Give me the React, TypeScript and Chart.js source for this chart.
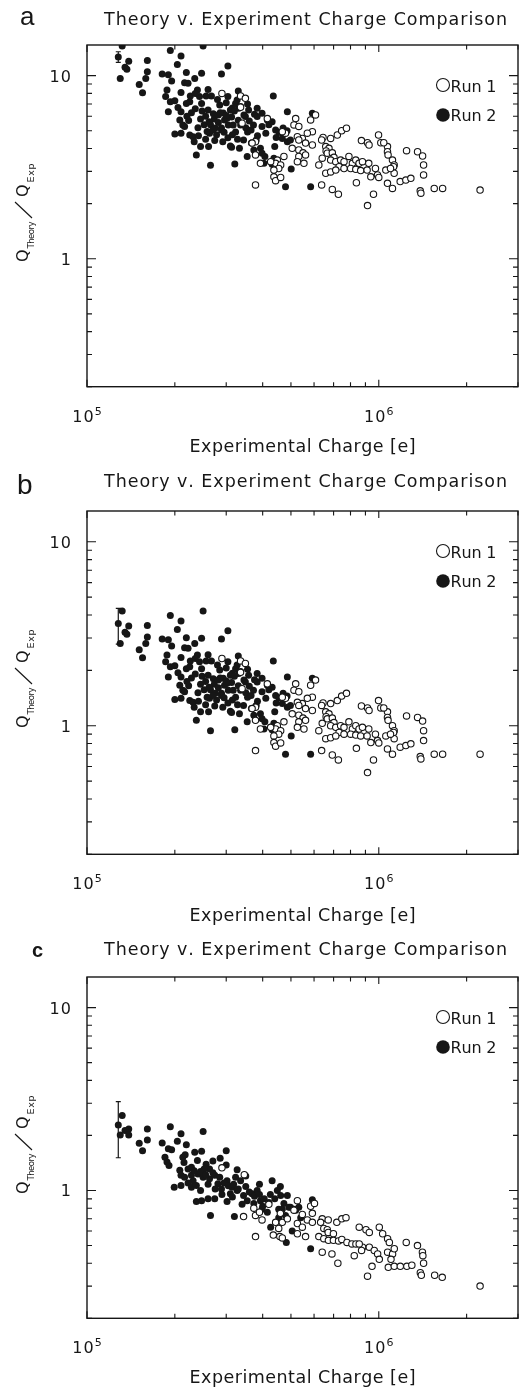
import React, { useEffect, useRef } from "react";
import { Chart, registerables } from "chart.js";

Chart.register(...registerables);

// ---------------- axis ranges / ticks ----------------
const xMin = 1e5;
const xMax = 3e6;
const yMin = 0.2;
const yMax = 14.7;
const xMajorTicks = [1e5, 1e6];
const xMinorTicks = [2e5, 3e5, 4e5, 5e5, 6e5, 7e5, 8e5, 9e5, 2e6, 3e6];
const yMajorTicks = [1, 10];
const yMinorTicks = [0.2, 0.3, 0.4, 0.5, 0.6, 0.7, 0.8, 0.9, 2, 3, 4, 5, 6, 7, 8, 9];
const xTickValues = [1e5, 1e6];
const xTickExps = ["5", "6"];
const yTickValues = [1, 10];
const yTickTexts = ["1", "10"];

const titleText = "Theory v. Experiment Charge Comparison";
const xAxisTitle = "Experimental Charge [e]";
const legendLabels = ["Run 1", "Run 2"];
const panelLetters = ["a", "b", "c"];

// ---------------- panels a & b (same charges) ----------------
const run2ChargeAB = [
  1.32e5, 1.28e5, 1.39e5, 1.37e5, 1.35e5, 1.30e5, 1.61e5, 1.61e5, 1.59e5, 1.51e5,
  1.55e5, 1.93e5, 2.10e5, 2.04e5, 2.50e5, 3.04e5, 1.81e5, 1.90e5, 1.95e5, 2.19e5,
  2.34e5, 2.47e5, 2.89e5, 2.16e5, 2.22e5, 1.88e5, 1.86e5, 1.93e5, 2.10e5, 2.39e5,
  2.26e5, 2.19e5, 2.25e5, 1.90e5, 2.43e5, 2.56e5, 2.67e5, 3.04e5, 2.47e5, 2.85e5,
  2.10e5, 2.28e5, 2.08e5, 2.13e5, 2.23e5, 2.48e5, 2.60e5, 2.71e5, 2.73e5, 2.65e5,
  2.52e5, 2.45e5, 2.82e5, 2.93e5, 2.96e5, 2.82e5, 2.89e5, 3.05e5, 3.13e5, 3.15e5,
  2.16e5, 2.00e5, 2.10e5, 2.25e5, 2.31e5, 2.41e5, 2.63e5, 2.74e5, 2.61e5, 2.45e5,
  3.04e5, 3.13e5, 2.37e5, 2.65e5, 3.21e5, 3.30e5, 3.27e5, 3.10e5, 3.36e5, 3.58e5,
  3.83e5, 4.35e5, 4.86e5, 5.92e5, 3.10e5, 3.54e5, 4.07e5, 4.31e5, 5.01e5, 4.79e5,
  5.84e5, 3.23e5, 3.31e5, 3.49e5, 3.83e5, 3.98e5, 4.15e5, 4.31e5, 3.98e5, 4.43e5,
  4.67e5, 4.86e5, 4.67e5, 4.40e5, 3.93e5, 3.73e5, 3.98e5, 4.37e5, 4.04e5, 2.86e5,
  3.02e5, 3.17e5, 2.89e5, 3.23e5, 2.75e5, 3.36e5, 3.55e5, 3.72e5, 3.44e5, 3.66e5,
  3.84e5, 3.33e5, 4.70e5, 4.98e5,
  2.35e5, 2.55e5, 2.62e5, 2.40e5, 2.58e5, 2.78e5, 2.95e5, 2.70e5, 3.00e5, 3.20e5,
  3.30e5, 3.45e5, 3.60e5, 3.50e5, 3.28e5, 3.15e5, 2.92e5, 2.55e5, 2.33e5, 2.20e5,
  2.05e5, 2.00e5, 2.35e5, 2.60e5, 2.80e5, 3.00e5, 3.55e5, 3.75e5, 3.65e5, 4.10e5,
  4.20e5, 4.55e5, 4.45e5, 4.85e5, 3.80e5,
];
const run2RatioA = [
  14.5, 12.65, 12.0, 10.85, 11.1, 9.65, 12.1, 10.5, 9.65, 8.95,
  8.07, 13.7, 12.8, 11.5, 14.5, 11.3, 10.2, 10.1, 9.35, 10.4,
  9.65, 10.3, 10.2, 9.15, 9.1, 8.35, 7.68, 7.2, 8.1, 8.35,
  7.75, 7.05, 7.2, 6.35, 7.68, 7.75, 7.75, 7.68, 7.05, 6.92,
  6.35, 6.28, 5.73, 5.38, 5.68, 6.4, 6.5, 6.2, 5.8, 5.4,
  5.4, 5.8, 6.1, 6.25, 5.73, 5.55, 5.17, 5.38, 5.95, 6.65,
  5.28, 4.8, 4.85, 4.74, 4.64, 4.7, 4.85, 4.42, 4.1, 4.1,
  4.58, 4.06, 3.69, 3.24, 3.29, 8.25, 7.37, 6.5, 6.78, 6.5,
  6.63, 7.75, 6.35, 6.23, 4.13, 3.62, 3.62, 3.28, 3.09, 2.47,
  2.47, 7.05, 6.63, 5.98, 5.98, 6.23, 5.73, 5.6, 5.28, 5.05,
  4.85, 4.36, 4.54, 4.1, 4.01, 3.93, 3.77, 3.54, 3.32, 6.28,
  5.85, 5.38, 5.05, 4.92, 5.17, 5.38, 4.92, 5.38, 4.45, 4.28,
  4.7, 4.01, 5.18, 4.45,
  6.6, 6.0, 5.6, 5.2, 4.95, 4.75, 4.9, 5.05, 6.05, 6.4,
  5.7, 6.1, 5.65, 5.2, 4.5, 4.75, 4.35, 4.5, 4.35, 6.0,
  6.7, 7.3, 8.0, 8.4, 7.4, 7.1, 7.0, 6.15, 5.05, 4.85,
  5.4, 4.9, 4.6, 5.0, 4.45,
];
const run2RatioB = [
  4.2, 3.6, 3.48, 3.14, 3.22, 2.8, 3.51, 3.04, 2.8, 2.59,
  2.34, 3.97, 3.71, 3.33, 4.2, 3.28, 2.96, 2.93, 2.71, 3.01,
  2.8, 2.99, 2.96, 2.65, 2.64, 2.42, 2.23, 2.09, 2.35, 2.42,
  2.25, 2.04, 2.09, 1.84, 2.23, 2.25, 2.25, 2.23, 2.04, 2.01,
  1.84, 1.82, 1.66, 1.56, 1.65, 1.86, 1.88, 1.8, 1.68, 1.57,
  1.57, 1.68, 1.77, 1.81, 1.66, 1.61, 1.5, 1.56, 1.72, 1.93,
  1.53, 1.39, 1.41, 1.37, 1.34, 1.36, 1.41, 1.28, 1.19, 1.19,
  1.33, 1.18, 1.07, 0.94, 0.95, 2.39, 2.14, 1.88, 1.97, 1.88,
  1.92, 2.25, 1.84, 1.81, 1.2, 1.05, 1.05, 0.95, 0.88, 0.7,
  0.7, 2.04, 1.92, 1.73, 1.73, 1.81, 1.66, 1.62, 1.53, 1.46,
  1.41, 1.26, 1.32, 1.19, 1.16, 1.14, 1.09, 1.03, 0.96, 1.82,
  1.7, 1.56, 1.46, 1.43, 1.5, 1.56, 1.43, 1.56, 1.29, 1.24,
  1.36, 1.16, 1.5, 1.29,
  1.91, 1.74, 1.62, 1.51, 1.43, 1.38, 1.42, 1.46, 1.75, 1.86,
  1.65, 1.77, 1.64, 1.51, 1.3, 1.38, 1.26, 1.3, 1.26, 1.74,
  1.94, 2.12, 2.32, 2.43, 2.14, 2.06, 2.03, 1.78, 1.46, 1.41,
  1.57, 1.42, 1.33, 1.45, 1.29,
];

const run1ChargeAB = [
  2.90e5, 3.36e5, 3.49e5, 3.36e5, 3.40e5, 4.15e5, 5.19e5, 5.12e5, 5.32e5, 5.84e5,
  6.07e5, 5.92e5, 5.69e5, 5.47e5, 5.26e5, 4.79e5, 4.67e5, 3.78e5, 3.68e5, 5.92e5,
  5.61e5, 5.32e5, 6.44e5, 6.37e5, 6.84e5, 7.21e5, 7.46e5, 7.75e5, 8.72e5, 6.58e5,
  6.75e5, 6.60e5, 6.66e5, 6.93e5, 7.02e5, 6.84e5, 6.40e5, 6.23e5, 7.12e5, 7.40e5,
  7.60e5, 7.90e5, 8.12e5, 8.34e5, 8.56e5, 8.79e5, 7.31e5, 7.60e5, 8.01e5, 8.34e5,
  8.67e5, 6.58e5, 6.84e5, 7.12e5, 5.05e5, 5.32e5, 5.50e5, 5.61e5, 5.32e5, 5.26e5,
  5.54e5, 4.73e5, 4.49e5, 4.43e5, 4.26e5, 4.61e5, 4.54e5, 4.37e5, 3.78e5, 4.37e5,
  4.43e5, 4.61e5, 6.37e5, 6.93e5, 7.27e5, 8.38e5, 3.78e5, 3.93e5, 1.245e6, 1.358e6,
  1.413e6, 1.424e6, 1.424e6, 1.071e6, 1.071e6, 1.076e6, 1.114e6, 1.129e6, 1.124e6, 9.98e5,
  9.15e5, 9.26e5, 1.016e6, 1.184e6, 1.238e6, 1.288e6, 1.057e6, 1.129e6, 9.39e5, 9.90e5,
  1.071e6, 1.114e6, 1.387e6, 1.394e6, 1.549e6, 1.655e6, 2.224e6, 9.59e5, 9.15e5, 1.04e6,
  9.24e5, 9.12e5, 9.74e5, 1.097e6, 1.0e6,
];
const run1RatioA = [
  8.0, 7.75, 7.52, 6.72, 5.5, 5.83, 5.83, 5.38, 5.28, 5.73,
  6.1, 4.94, 4.85, 4.54, 4.64, 4.85, 4.94, 4.36, 4.28, 4.18,
  4.28, 4.45, 4.6, 4.45, 4.54, 4.74, 5.0, 5.16, 4.42, 4.1,
  4.01, 3.88, 3.77, 3.79, 3.58, 3.46, 3.54, 3.25, 3.39, 3.46,
  3.39, 3.62, 3.32, 3.46, 3.32, 3.39, 3.18, 3.11, 3.11, 3.08,
  3.03, 2.93, 2.98, 3.05, 4.01, 3.93, 3.79, 3.69, 3.62, 3.39,
  3.32, 3.62, 3.46, 3.32, 3.39, 3.25, 3.11, 3.05, 2.53, 2.8,
  2.67, 2.78, 2.53, 2.39, 2.25, 2.6, 3.69, 3.32, 3.89, 3.84,
  3.64, 3.25, 2.87, 4.1, 3.84, 3.69, 3.46, 3.25, 3.18, 4.74,
  4.3, 4.18, 4.3, 2.64, 2.69, 2.75, 3.05, 2.93, 2.8, 2.87,
  2.58, 2.42, 2.35, 2.28, 2.42, 2.42, 2.37, 2.25, 1.95, 4.3,
  3.32, 3.05, 3.11, 3.11, 2.78,
];
const run1RatioB = [
  2.32, 2.25, 2.18, 1.95, 1.59, 1.69, 1.69, 1.56, 1.53, 1.66,
  1.77, 1.43, 1.41, 1.32, 1.34, 1.41, 1.43, 1.26, 1.24, 1.21,
  1.24, 1.29, 1.33, 1.29, 1.32, 1.37, 1.45, 1.5, 1.28, 1.19,
  1.16, 1.12, 1.09, 1.1, 1.04, 1.0, 1.03, 0.94, 0.98, 1.0,
  0.98, 1.05, 0.96, 1.0, 0.96, 0.98, 0.92, 0.9, 0.9, 0.89,
  0.88, 0.85, 0.86, 0.88, 1.16, 1.14, 1.1, 1.07, 1.05, 0.98,
  0.96, 1.05, 1.0, 0.96, 0.98, 0.94, 0.9, 0.88, 0.733, 0.81,
  0.774, 0.806, 0.733, 0.693, 0.652, 0.754, 1.07, 0.96, 1.13, 1.11,
  1.06, 0.94, 0.83, 1.19, 1.11, 1.07, 1.0, 0.94, 0.92, 1.37,
  1.25, 1.21, 1.25, 0.765, 0.78, 0.797, 0.88, 0.85, 0.81, 0.83,
  0.748, 0.7, 0.68, 0.66, 0.7, 0.7, 0.7, 0.652, 0.556, 1.25,
  0.96, 0.88, 0.9, 0.9, 0.806,
];

// ---------------- panel c ----------------
const run2ChargeC = [
  1.28e5, 1.32e5, 1.30e5, 1.39e5, 1.35e5, 1.39e5, 1.61e5, 1.61e5, 1.51e5, 1.55e5,
  1.93e5, 2.10e5, 2.50e5, 2.04e5, 2.19e5, 1.81e5, 1.90e5, 1.95e5, 2.34e5, 2.47e5,
  3.00e5, 1.85e5, 1.88e5, 1.91e5, 2.13e5, 2.17e5, 2.39e5, 2.86e5, 3.27e5, 2.56e5,
  2.63e5, 2.52e5, 2.08e5, 2.10e5, 2.16e5, 2.22e5, 2.28e5, 2.28e5, 2.31e5, 2.22e5,
  2.40e5, 2.50e5, 2.63e5, 2.74e5, 1.99e5, 2.10e5, 2.28e5, 2.37e5, 2.81e5, 2.89e5,
  3.02e5, 3.14e5, 3.23e5, 3.36e5, 2.37e5, 2.47e5, 2.60e5, 2.74e5, 2.65e5, 3.20e5,
  3.02e5, 3.10e5, 3.27e5, 3.44e5, 3.54e5, 3.68e5, 3.83e5, 3.73e5, 3.93e5, 3.98e5,
  4.15e5, 4.31e5, 4.49e5, 4.61e5, 4.73e5, 4.54e5, 4.98e5, 5.19e5, 5.40e5, 4.26e5,
  5.05e5, 4.86e5, 5.92e5, 4.67e5, 4.92e5, 5.12e5, 5.32e5, 4.54e5, 4.79e5, 4.82e5,
  5.84e5,
  2.45e5, 2.55e5, 2.70e5, 2.85e5, 2.95e5, 3.05e5, 3.18e5, 3.30e5, 3.50e5, 3.60e5,
  3.75e5, 3.90e5, 4.05e5, 4.20e5, 4.40e5, 2.60e5, 2.75e5, 2.90e5, 3.40e5, 3.15e5,
  4.00e5, 4.25e5, 2.45e5, 2.33e5, 2.15e5, 2.70e5, 3.00e5, 3.50e5, 3.90e5, 4.60e5,
];
const run2RatioC = [
  2.28, 2.57, 2.01, 2.17, 2.13, 2.01, 2.17, 1.89, 1.81, 1.65,
  2.23, 2.04, 2.1, 1.86, 1.78, 1.82, 1.69, 1.67, 1.62, 1.64,
  1.65, 1.52, 1.43, 1.37, 1.52, 1.57, 1.46, 1.5, 1.3, 1.39,
  1.31, 1.31, 1.29, 1.21, 1.18, 1.31, 1.34, 1.21, 1.13, 1.1,
  1.23, 1.18, 1.16, 1.21, 1.04, 1.065, 1.04, 1.065, 1.09, 1.02,
  1.13, 1.04, 1.18, 1.13, 0.87, 0.88, 0.9, 0.9, 0.73, 0.72,
  0.87, 0.96, 1.0, 0.94, 0.88, 0.96, 1.0, 0.85, 0.88, 0.79,
  0.76, 1.13, 1.0, 0.94, 0.85, 0.79, 0.81, 0.78, 0.71, 0.63,
  0.6, 0.94, 0.89, 0.79, 0.81, 0.79, 0.81, 0.71, 0.73, 0.52,
  0.48,
  1.27, 1.22, 1.25, 1.18, 1.1, 1.06, 1.08, 1.02, 1.05, 0.98,
  0.93, 0.95, 0.9, 0.86, 0.9, 1.08, 1.02, 0.95, 0.84, 0.92,
  0.82, 0.95, 1.0, 1.28, 1.42, 1.45, 1.38, 1.2, 1.08, 1.05,
];
const run1ChargeC = [
  2.90e5, 3.46e5, 3.44e5, 3.78e5, 3.98e5, 4.43e5, 4.67e5, 4.86e5, 5.26e5, 5.12e5,
  3.78e5, 4.35e5, 4.58e5, 5.84e5, 6.02e5, 5.92e5, 5.47e5, 5.69e5, 5.92e5, 5.26e5,
  5.47e5, 4.54e5, 4.67e5, 5.26e5, 5.61e5, 6.40e5, 6.71e5, 7.18e5, 7.47e5, 7.72e5,
  6.32e5, 6.48e5, 6.66e5, 6.71e5, 6.99e5, 6.23e5, 6.48e5, 6.72e5, 6.99e5, 7.28e5,
  7.47e5, 7.78e5, 8.09e5, 8.35e5, 6.40e5, 6.91e5, 7.24e5, 8.57e5, 9.04e5, 9.28e5,
  1.004e6, 1.031e6, 1.072e6, 1.087e6, 8.24e5, 8.80e5, 9.28e5, 9.65e5, 9.91e5, 1.004e6,
  8.57e5, 8.73e5, 9.48e5, 9.15e5, 1.072e6, 1.115e6, 1.13e6, 1.101e6, 1.078e6, 1.13e6,
  1.185e6, 1.248e6, 1.298e6, 1.242e6, 1.357e6, 1.411e6, 1.416e6, 1.424e6, 1.388e6, 1.399e6,
  1.554e6, 1.65e6, 2.224e6, 3.73e5, 3.90e5, 4.60e5, 4.20e5,
];
const run1RatioC = [
  1.33, 1.22, 0.72, 0.73, 0.69, 0.67, 0.67, 0.7, 0.88, 0.78,
  0.56, 0.57, 0.56, 0.82, 0.85, 0.75, 0.74, 0.69, 0.67, 0.66,
  0.63, 0.62, 0.55, 0.58, 0.56, 0.7, 0.69, 0.67, 0.7, 0.71,
  0.67, 0.62, 0.61, 0.59, 0.58, 0.56, 0.545, 0.534, 0.534, 0.53,
  0.54, 0.52, 0.51, 0.51, 0.46, 0.45, 0.4, 0.63, 0.61, 0.59,
  0.63, 0.58, 0.545, 0.52, 0.44, 0.49, 0.49, 0.47, 0.45, 0.42,
  0.51, 0.47, 0.385, 0.34, 0.46, 0.45, 0.48, 0.42, 0.38, 0.385,
  0.385, 0.385, 0.39, 0.52, 0.5, 0.46, 0.44, 0.4, 0.355, 0.344,
  0.344, 0.335, 0.3, 0.8, 0.76, 0.75, 0.84,
];

// error bar on the first Run 2 point of each panel
const errCharge = [1.28e5, 1.28e5, 1.28e5];
const errLow = [11.8, 2.78, 1.51];
const errHigh = [13.5, 4.35, 3.06];

// ---------------- styling / layout ----------------
const INK = "#161616";
const FONT = '"DejaVu Sans", "Liberation Sans", sans-serif';
const W = 532;

type PanelCfg = {
  idx: number;
  top: number;
  height: number;
  plotBottom: number;
  titleDy: number;
  xlabDy: number;
  letterFont: string;
  letterX: number;
  letterDy: number;
  r1x: number[];
  r1y: number[];
  r2x: number[];
  r2y: number[];
};

const panels: PanelCfg[] = [
  { idx: 0, top: 0, height: 466, plotBottom: 386.7, titleDy: -20, xlabDy: 65, letterFont: '26px "Liberation Sans", Arial, sans-serif', letterX: 20, letterDy: -20,
    r1x: run1ChargeAB, r1y: run1RatioA, r2x: run2ChargeAB, r2y: run2RatioA },
  { idx: 1, top: 466, height: 466, plotBottom: 388.3, titleDy: -24, xlabDy: 67, letterFont: '28px "Liberation Sans", Arial, sans-serif', letterX: 17, letterDy: -17.5,
    r1x: run1ChargeAB, r1y: run1RatioB, r2x: run2ChargeAB, r2y: run2RatioB },
  { idx: 2, top: 932, height: 458, plotBottom: 386.3, titleDy: -22, xlabDy: 64.5, letterFont: 'bold 20px "Liberation Sans", Arial, sans-serif', letterX: 32, letterDy: -20,
    r1x: run1ChargeC, r1y: run1RatioC, r2x: run2ChargeC, r2y: run2RatioC },
];

function spacedText(ctx: CanvasRenderingContext2D, text: string, x: number, y: number, width: number, align: "left" | "center" | "right") {
  const chars = Array.from(text);
  const ws = chars.map((c) => ctx.measureText(c).width);
  const nat = ws.reduce((s, w) => s + w, 0);
  const gap = chars.length > 1 ? (width - nat) / (chars.length - 1) : 0;
  let cx = align === "center" ? x - width / 2 : align === "right" ? x - width : x;
  ctx.textAlign = "left";
  chars.forEach((c, i) => {
    ctx.fillText(c, cx, y);
    cx += ws[i] + gap;
  });
}

function makeDeco(p: PanelCfg) {
  return {
    id: "deco" + p.idx,
    afterDatasetsDraw(chart: any) {
      const { ctx, chartArea: a } = chart;
      const xs = chart.scales.x;
      const ys = chart.scales.y;
      ctx.save();
      ctx.strokeStyle = INK;
      ctx.fillStyle = INK;

      // error bar
      const ex = xs.getPixelForValue(errCharge[p.idx]);
      const yl = ys.getPixelForValue(errLow[p.idx]);
      const yh = ys.getPixelForValue(errHigh[p.idx]);
      ctx.lineWidth = 1.2;
      ctx.beginPath();
      ctx.moveTo(ex, yl);
      ctx.lineTo(ex, yh);
      ctx.moveTo(ex - 2.5, yl);
      ctx.lineTo(ex + 2.5, yl);
      ctx.moveTo(ex - 2.5, yh);
      ctx.lineTo(ex + 2.5, yh);
      ctx.stroke();

      // frame
      ctx.lineWidth = 1.4;
      ctx.strokeRect(a.left, a.top, a.right - a.left, a.bottom - a.top);

      // inward ticks
      ctx.lineWidth = 1.1;
      ctx.beginPath();
      const xt = (v: number, len: number) => {
        const px = xs.getPixelForValue(v);
        ctx.moveTo(px, a.bottom);
        ctx.lineTo(px, a.bottom - len);
        ctx.moveTo(px, a.top);
        ctx.lineTo(px, a.top + len);
      };
      const yt = (v: number, len: number) => {
        const py = ys.getPixelForValue(v);
        ctx.moveTo(a.left, py);
        ctx.lineTo(a.left + len, py);
        ctx.moveTo(a.right, py);
        ctx.lineTo(a.right - len, py);
      };
      xMajorTicks.forEach((v) => xt(v, 7));
      xMinorTicks.forEach((v) => xt(v, 4.5));
      yMajorTicks.forEach((v) => yt(v, 9));
      yMinorTicks.forEach((v) => yt(v, 5));
      ctx.stroke();

      // legend
      const lx = a.right - 75;
      const l1 = a.top + 40;
      const l2 = a.top + 70;
      ctx.lineWidth = 1.1;
      ctx.beginPath();
      ctx.arc(lx, l1, 6.5, 0, Math.PI * 2);
      ctx.stroke();
      ctx.beginPath();
      ctx.arc(lx, l2, 6.8, 0, Math.PI * 2);
      ctx.fill();
      ctx.font = `16px ${FONT}`;
      ctx.textBaseline = "alphabetic";
      spacedText(ctx, legendLabels[0], lx + 7.5, l1 + 6.5, 46, "left");
      spacedText(ctx, legendLabels[1], lx + 7.5, l2 + 5.5, 46, "left");

      // y tick labels
      ctx.font = `16px ${FONT}`;
      yTickValues.forEach((v, i) => {
        const py = ys.getPixelForValue(v);
        const t = yTickTexts[i];
        if (t.length > 1) spacedText(ctx, t, a.left - 16, py + 6, 21.5, "right");
        else {
          ctx.textAlign = "right";
          ctx.fillText(t, a.left - 16, py + 6);
        }
      });

      // x tick labels 10^n
      xTickValues.forEach((v, i) => {
        const px = xs.getPixelForValue(v);
        ctx.font = `11px ${FONT}`;
        const supW = ctx.measureText(xTickExps[i]).width;
        const total = 21.5 + 1 + supW;
        const start = px - total / 2;
        ctx.font = `16px ${FONT}`;
        spacedText(ctx, "10", start, a.bottom + 35, 21.5, "left");
        ctx.font = `11px ${FONT}`;
        ctx.textAlign = "left";
        ctx.fillText(xTickExps[i], start + 22.5, a.bottom + 28);
      });

      // title
      ctx.font = `17.5px ${FONT}`;
      spacedText(ctx, titleText, (a.left + a.right) / 2 + 3, a.top + p.titleDy, 403, "center");

      // x axis title
      ctx.font = `17.5px ${FONT}`;
      spacedText(ctx, xAxisTitle, (a.left + a.right) / 2, a.bottom + p.xlabDy, 226, "center");

      // panel letter
      ctx.font = p.letterFont;
      ctx.textAlign = "left";
      ctx.fillText(panelLetters[p.idx], p.letterX, a.top + p.letterDy);

      // y axis title (rotated)  Q_Theory / Q_Exp
      ctx.save();
      ctx.translate(a.left - 59, a.top + 219);
      ctx.rotate(-Math.PI / 2);
      ctx.textAlign = "left";
      ctx.font = `16px ${FONT}`;
      ctx.fillText("Q", 2, 0);
      ctx.font = `8.5px ${FONT}`;
      spacedText(ctx, "Theory", 15.5, 5.5, 27, "left");
      ctx.lineWidth = 1.1;
      ctx.beginPath();
      ctx.moveTo(46, 4);
      ctx.lineTo(62, -13);
      ctx.stroke();
      ctx.font = `16px ${FONT}`;
      ctx.fillText("Q", 67, 0);
      ctx.font = `9.5px ${FONT}`;
      spacedText(ctx, "Exp", 81.5, 5.5, 19, "left");
      ctx.restore();

      ctx.restore();
    },
  };
}

function toPoints(xs: number[], ys: number[]) {
  return xs.map((x, i) => ({ x, y: ys[i] }));
}

export default function App() {
  const refs = [useRef<HTMLCanvasElement>(null), useRef<HTMLCanvasElement>(null), useRef<HTMLCanvasElement>(null)];

  useEffect(() => {
    const charts: Chart[] = [];
    panels.forEach((p, i) => {
      const canvas = refs[i].current;
      if (!canvas) return;
      const chart = new Chart(canvas, {
        type: "scatter",
        data: {
          datasets: [
            {
              label: legendLabels[0],
              data: toPoints(p.r1x, p.r1y),
              pointRadius: 3.2,
              pointBackgroundColor: "#ffffff",
              pointBorderColor: INK,
              pointBorderWidth: 1.1,
              showLine: false,
            },
            {
              label: legendLabels[1],
              data: toPoints(p.r2x, p.r2y),
              pointRadius: 3.5,
              pointBackgroundColor: INK,
              pointBorderColor: INK,
              pointBorderWidth: 0,
              showLine: false,
            },
          ],
        },
        options: {
          responsive: false,
          maintainAspectRatio: false,
          animation: false,
          events: [],
          layout: { padding: { left: 87, right: W - 518, top: 45, bottom: p.height - p.plotBottom } },
          scales: {
            x: { type: "logarithmic", min: xMin, max: xMax, display: false },
            y: { type: "logarithmic", min: yMin, max: yMax, display: false },
          },
          plugins: { legend: { display: false }, tooltip: { enabled: false } },
        },
        plugins: [makeDeco(p)],
      } as any);
      charts.push(chart);
    });
    return () => charts.forEach((c) => c.destroy());
  }, []);

  return (
    <div style={{ position: "absolute", left: 0, top: 0, width: W, height: 1390, overflow: "hidden", background: "#fff" }}>
      {panels.map((p, i) => (
        <canvas
          key={i}
          ref={refs[i]}
          width={W}
          height={p.height}
          style={{ position: "absolute", left: 0, top: p.top, width: W, height: p.height }}
        />
      ))}
    </div>
  );
}
